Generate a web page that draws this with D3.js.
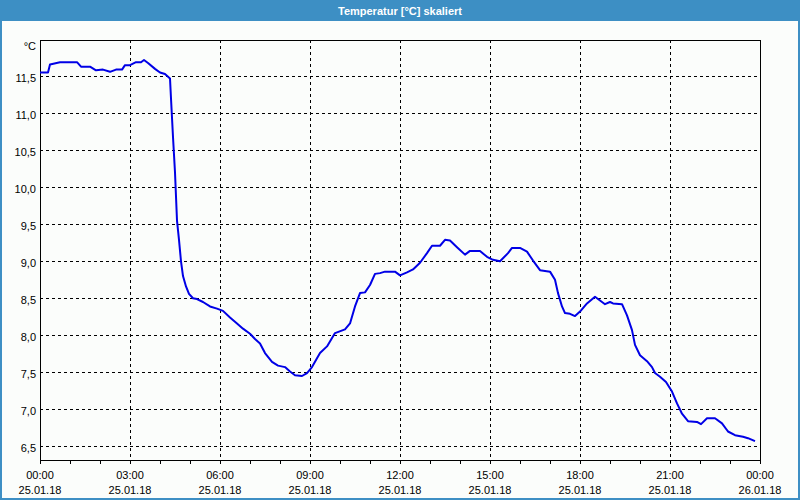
<!DOCTYPE html>
<html><head><meta charset="utf-8">
<script src="https://cdn.jsdelivr.net/npm/d3@7"></script>
<style>
html,body{margin:0;padding:0;background:#fbfdfb;}
svg{display:block;font-family:"Liberation Sans",Arial,sans-serif;}
</style></head>
<body>
<svg id="c" width="800" height="500"></svg>
<script>
const title = "Temperatur [°C] skaliert";
const unitLabel = "°C";
const times = ["00:00","00:16","00:20","00:40","01:14","01:22","01:40","01:52","02:06","02:20","02:32","02:44","02:50","03:00","03:12","03:22","03:28","03:36","03:50","04:00","04:10","04:20","04:22","04:26","04:30","04:34","04:38","04:42","04:46","04:52","04:58","05:06","05:14","05:26","05:40","05:54","06:06","06:20","06:34","06:46","07:00","07:10","07:20","07:30","07:44","07:56","08:10","08:20","08:30","08:44","08:54","09:04","09:20","09:34","09:50","10:10","10:20","10:30","10:40","10:50","11:00","11:10","11:20","11:30","11:50","12:00","12:14","12:26","12:40","12:54","13:04","13:20","13:30","13:40","13:54","14:10","14:20","14:40","14:54","15:06","15:20","15:36","15:44","16:00","16:14","16:26","16:40","17:00","17:10","17:16","17:24","17:30","17:40","17:50","18:00","18:14","18:30","18:40","18:50","19:00","19:06","19:24","19:34","19:44","19:50","20:00","20:14","20:24","20:30","20:40","20:52","21:04","21:14","21:24","21:36","21:54","22:02","22:14","22:30","22:44","22:56","23:10","23:26","23:36","23:50"];
const temps = [11.55,11.55,11.66,11.69,11.69,11.63,11.63,11.58,11.59,11.56,11.59,11.59,11.65,11.65,11.69,11.69,11.72,11.68,11.60,11.55,11.53,11.47,11.20,10.68,10.20,9.55,9.29,9.00,8.80,8.66,8.56,8.50,8.49,8.45,8.39,8.36,8.33,8.24,8.16,8.09,8.02,7.95,7.89,7.76,7.64,7.59,7.57,7.51,7.46,7.45,7.49,7.57,7.76,7.85,8.03,8.08,8.16,8.39,8.57,8.58,8.68,8.83,8.84,8.86,8.86,8.81,8.85,8.89,8.98,9.11,9.21,9.21,9.29,9.28,9.19,9.09,9.14,9.14,9.06,9.02,9.00,9.11,9.18,9.18,9.13,9.01,8.88,8.86,8.75,8.57,8.39,8.30,8.29,8.26,8.32,8.43,8.52,8.47,8.42,8.45,8.43,8.42,8.27,8.07,7.87,7.73,7.65,7.57,7.49,7.44,7.37,7.24,7.08,6.94,6.84,6.83,6.80,6.88,6.88,6.81,6.70,6.65,6.63,6.61,6.57];
const yTicks = [6.5,7.0,7.5,8.0,8.5,9.0,9.5,10.0,10.5,11.0,11.5];
const yDomain = [6.315, 11.99];
const startDate = new Date(2018,0,25,0,0);
const endDate = new Date(2018,0,26,0,0);

const svg = d3.select("#c");
const W = 800, H = 500;
const L = 40, R = 760, T = 40, B = 460;

// background
svg.append("rect").attr("x",0).attr("y",0).attr("width",W).attr("height",H).attr("fill","#fbfdfb");
// title bar
svg.append("rect").attr("x",0).attr("y",0).attr("width",W).attr("height",21).attr("fill","#3d8fc4");
svg.append("text").attr("x",W/2).attr("y",14.5).attr("text-anchor","middle")
  .attr("fill","#ffffff").attr("font-weight","bold").attr("font-size","11px").text(title);
// window border
svg.append("rect").attr("x",1).attr("y",1).attr("width",W-2).attr("height",H-2)
  .attr("fill","none").attr("stroke","#3d8fc4").attr("stroke-width",2);

const parse = d3.timeParse("%Y-%m-%d %H:%M");
const data = times.map((t,i)=>({t: parse("2018-01-25 "+t), v: temps[i]}));

const x = d3.scaleTime().domain([startDate,endDate]).range([L,R]);
const y = d3.scaleLinear().domain(yDomain).range([B,T]);

const fmtNum = d3.format(".1f");
const g = svg.append("g");

// horizontal gridlines
g.selectAll("line.hg").data(yTicks).join("line").attr("class","hg")
  .attr("x1",L).attr("x2",R)
  .attr("y1",d=>Math.round(y(d))+0.5).attr("y2",d=>Math.round(y(d))+0.5)
  .attr("stroke","#000").attr("stroke-width",1).attr("stroke-dasharray","3,3");
// vertical gridlines
const xMajor = d3.timeHour.every(3).range(startDate, d3.timeMinute.offset(endDate,1));
g.selectAll("line.vg").data(xMajor.slice(1,-1)).join("line").attr("class","vg")
  .attr("y1",T).attr("y2",B)
  .attr("x1",d=>Math.round(x(d))+0.5).attr("x2",d=>Math.round(x(d))+0.5)
  .attr("stroke","#000").attr("stroke-width",1).attr("stroke-dasharray","3,3");

// frame
svg.append("rect").attr("x",L+0.5).attr("y",T+0.5).attr("width",R-L).attr("height",B-T)
  .attr("fill","none").attr("stroke","#000").attr("stroke-width",1);

// x ticks every hour
const xMinor = d3.timeHour.every(1).range(startDate, d3.timeMinute.offset(endDate,1));
g.selectAll("line.xt").data(xMinor).join("line").attr("class","xt")
  .attr("x1",d=>Math.round(x(d))+0.5).attr("x2",d=>Math.round(x(d))+0.5)
  .attr("y1",B).attr("y2",B+4).attr("stroke","#000").attr("stroke-width",1);

// x labels
const fT = d3.timeFormat("%H:%M"), fD = d3.timeFormat("%d.%m.%y");
const xl = g.selectAll("g.xl").data(xMajor).join("g").attr("class","xl")
  .attr("transform",d=>`translate(${x(d)},0)`);
xl.append("text").attr("y",479).attr("text-anchor","middle").attr("font-size","11px").attr("fill","#000").text(d=>fT(d));
xl.append("text").attr("y",493.5).attr("text-anchor","middle").attr("font-size","11px").attr("fill","#000").text(d=>fD(d));

// y labels
g.selectAll("text.yl").data(yTicks).join("text").attr("class","yl")
  .attr("x",36).attr("y",d=>y(d)+5.3).attr("text-anchor","end").attr("font-size","11px").attr("fill","#000")
  .text(d=>fmtNum(d).replace(".",","));
svg.append("text").attr("x",36).attr("y",49.5).attr("text-anchor","end").attr("font-size","11px").attr("fill","#000").text(unitLabel);

// line
const line = d3.line().x(d=>x(d.t)).y(d=>y(d.v));
svg.append("path").datum(data).attr("d",line).attr("fill","none")
  .attr("stroke","#0000e6").attr("stroke-width",2).attr("stroke-linejoin","round");
</script>
</body></html>
